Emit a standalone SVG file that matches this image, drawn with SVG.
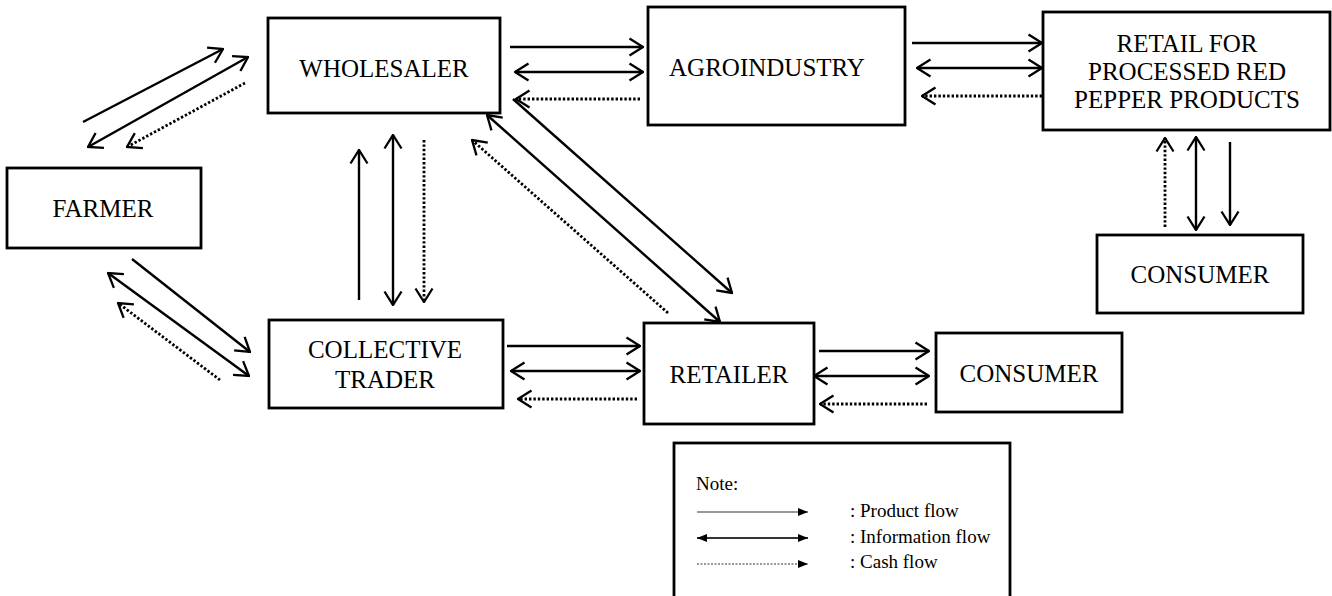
<svg xmlns="http://www.w3.org/2000/svg" width="1332" height="596" viewBox="0 0 1332 596">
<style>
.box{fill:#fff;stroke:#000;stroke-width:2.8}
.lbl{font-family:"Liberation Serif","Times New Roman",serif;font-size:25px;fill:#000;text-anchor:middle}
.lg{font-family:"Liberation Serif","Times New Roman",serif;font-size:19px;fill:#000}
.p{stroke:#000;stroke-width:2.4;fill:none;marker-end:url(#ah)}
.i{stroke:#000;stroke-width:2.4;fill:none;marker-start:url(#ah);marker-end:url(#ah)}
.c{stroke:#000;stroke-width:2.8;fill:none;stroke-dasharray:2.4 2;marker-end:url(#ah)}
.lp{stroke:#333;stroke-width:1.2;fill:none;marker-end:url(#lh)}
.li{stroke:#333;stroke-width:1.8;fill:none;marker-start:url(#lh);marker-end:url(#lh)}
.lc{stroke:#333;stroke-width:1.2;fill:none;stroke-dasharray:2 1.5;marker-end:url(#lh)}
</style>
<defs>
<marker id="ah" viewBox="0 0 16 20" refX="15" refY="10" markerWidth="16" markerHeight="20" markerUnits="userSpaceOnUse" orient="auto-start-reverse">
<path d="M1.5,1.5 L15,10 L1.5,18.5" fill="none" stroke="#000" stroke-width="2.3"/>
</marker>
<marker id="lh" viewBox="0 0 10 8" refX="10" refY="4" markerWidth="10" markerHeight="8" markerUnits="userSpaceOnUse" orient="auto-start-reverse">
<path d="M0,0 L10,4 L0,8 z" fill="#000"/>
</marker>
</defs>
<rect width="1332" height="596" fill="#fff"/>

<g id="connectors">
<line class="p" x1="83" y1="122" x2="223" y2="49"/>
<line class="i" x1="88" y1="147" x2="248" y2="57"/>
<line class="c" x1="245" y1="83" x2="127" y2="147"/>
<line class="p" x1="510" y1="47" x2="643" y2="47"/>
<line class="i" x1="515" y1="72" x2="643" y2="72"/>
<line class="c" x1="640" y1="99" x2="516" y2="99"/>
<line class="p" x1="912" y1="43" x2="1042" y2="43"/>
<line class="i" x1="917" y1="68" x2="1042" y2="68"/>
<line class="c" x1="1042" y1="96" x2="922" y2="96"/>
<line class="c" x1="1165" y1="227" x2="1165" y2="138"/>
<line class="i" x1="1196" y1="137" x2="1196" y2="230"/>
<line class="p" x1="1230" y1="142" x2="1230" y2="225"/>
<line class="p" x1="359" y1="300" x2="359" y2="150"/>
<line class="i" x1="393" y1="135" x2="393" y2="305"/>
<line class="c" x1="424" y1="140" x2="424" y2="302"/>
<line class="p" x1="132" y1="259" x2="250" y2="352"/>
<line class="i" x1="108" y1="273" x2="249" y2="376"/>
<line class="c" x1="220" y1="380" x2="118" y2="303"/>
<line class="p" x1="513" y1="99" x2="732" y2="293"/>
<line class="i" x1="487" y1="115" x2="720" y2="322"/>
<line class="c" x1="668" y1="313" x2="472" y2="140"/>
<line class="p" x1="507" y1="346" x2="640" y2="346"/>
<line class="i" x1="511" y1="371" x2="640" y2="371"/>
<line class="c" x1="637" y1="399" x2="518" y2="399"/>
<line class="p" x1="819" y1="351" x2="929" y2="351"/>
<line class="i" x1="814" y1="376" x2="929" y2="376"/>
<line class="c" x1="927" y1="404" x2="820" y2="404"/>
</g>

<g id="wholesaler">
<rect class="box" x="268" y="18" width="232" height="95"/>
<text class="lbl" x="384" y="77">WHOLESALER</text>
</g>
<g id="farmer">
<rect class="box" x="7" y="168" width="194" height="80"/>
<text class="lbl" x="103" y="217">FARMER</text>
</g>
<g id="collective-trader">
<rect class="box" x="269" y="320" width="234" height="88"/>
<text class="lbl" x="385" y="358">COLLECTIVE</text>
<text class="lbl" x="385" y="388">TRADER</text>
</g>
<g id="agroindustry">
<rect class="box" x="648" y="7" width="257" height="118"/>
<text class="lbl" x="767" y="76">AGROINDUSTRY</text>
</g>
<g id="retail-processed">
<rect class="box" x="1043" y="12" width="287" height="118"/>
<text class="lbl" x="1187" y="52">RETAIL FOR</text>
<text class="lbl" x="1187" y="80">PROCESSED RED</text>
<text class="lbl" x="1187" y="108">PEPPER PRODUCTS</text>
</g>
<g id="consumer-top">
<rect class="box" x="1097" y="235" width="206" height="78"/>
<text class="lbl" x="1200" y="283">CONSUMER</text>
</g>
<g id="retailer">
<rect class="box" x="644" y="323" width="170" height="101"/>
<text class="lbl" x="729" y="383">RETAILER</text>
</g>
<g id="consumer-bottom">
<rect class="box" x="936" y="333" width="186" height="79"/>
<text class="lbl" x="1029" y="382">CONSUMER</text>
</g>

<g id="legend">
<rect class="box" x="674" y="443" width="336" height="160"/>
<text class="lg" x="696" y="490">Note:</text>
<line class="lp" x1="697" y1="512" x2="808" y2="512"/>
<line class="li" x1="697" y1="538" x2="808" y2="538"/>
<line class="lc" x1="697" y1="564" x2="808" y2="564"/>
<text class="lg" x="850" y="517">: Product flow</text>
<text class="lg" x="850" y="543">: Information flow</text>
<text class="lg" x="850" y="568">: Cash flow</text>
</g>
</svg>
